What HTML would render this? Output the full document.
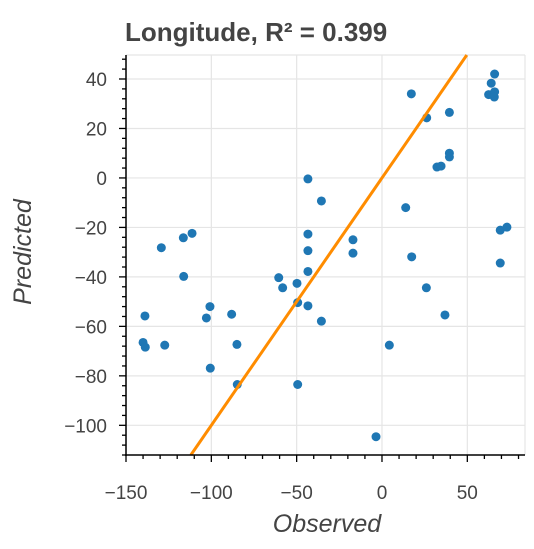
<!DOCTYPE html>
<html><head><meta charset="utf-8"><style>
body{margin:0;background:#fff;}
svg text{font-family:"Liberation Sans",sans-serif;}
</style></head><body>
<svg width="534" height="544" xmlns="http://www.w3.org/2000/svg">
<g id="grid"></g>
<g id="marks"></g>
<g id="axes"></g>
<text x="125" y="41" font-size="26" font-weight="bold" fill="#444">Longitude, R² = 0.399</text>
<text x="327" y="532" font-size="25" font-style="italic" text-anchor="middle" fill="#444">Observed</text>
<text transform="translate(31,252) rotate(-90)" font-size="25" font-style="italic" text-anchor="middle" fill="#444">Predicted</text>
</svg>
<script>
const observed=[66,64,62.5,66,65.8,17.2,26.2,39.5,39.5,39.5,32.2,34.6,-43.4,-35.5,13.9,69.3,73.2,69.3,-17,-17,17.4,-43.4,-43.4,-43.4,-60.5,-58.2,-49.8,-49.4,-43.4,-35.5,26,36.9,4.3,-3.5,-49.4,-84.8,-85,-88.1,-100.6,-100.8,-102.9,-116.2,-116.4,-111.3,-129.3,-138.9,-140,-138.7,-127.3];
const predicted=[42,38.3,33.7,34.8,32.7,34,24.3,26.5,10,8.5,4.4,4.8,-0.4,-9.3,-12,-21.1,-19.9,-34.4,-25,-30.4,-31.9,-22.7,-29.4,-37.8,-40.3,-44.4,-42.6,-50.4,-51.7,-57.9,-44.4,-55.4,-67.6,-104.6,-83.5,-83.5,-67.3,-55.1,-76.9,-52,-56.6,-39.8,-24.2,-22.4,-28.2,-55.8,-66.5,-68.4,-67.6];
const xTicks=[-150,-100,-50,0,50];
const yTicks=[-100,-80,-60,-40,-20,0,20,40];
const X0=126,X1=525,Y0=55,Y1=455,xmin=-150,xmax=83.8,ymin=-112,ymax=49.7;
const sx=v=>X0+(v-xmin)/(xmax-xmin)*(X1-X0);
const sy=v=>Y1-(v-ymin)/(ymax-ymin)*(Y1-Y0);
const NS='http://www.w3.org/2000/svg';
function mk(p,t,a){const e=document.createElementNS(NS,t);for(const k in a)e.setAttribute(k,a[k]);p.appendChild(e);return e;}
const grid=document.getElementById('grid'),marks=document.getElementById('marks'),axes=document.getElementById('axes');
xTicks.forEach(v=>{const l=mk(grid,'line',{x1:sx(v),x2:sx(v),y1:Y0,y2:Y1,stroke:'#e5e5e5','stroke-width':1.2});

});
yTicks.forEach(v=>{const l=mk(grid,'line',{x1:X0,x2:X1,y1:sy(v),y2:sy(v),stroke:'#e5e5e5','stroke-width':1.2});

});
mk(grid,'line',{x1:X1,x2:X1,y1:Y0,y2:Y1,stroke:'#e5e5e5','stroke-width':1.2});
mk(grid,'line',{x1:X0,x2:X1,y1:Y0,y2:Y0,stroke:'#e5e5e5','stroke-width':1.2});
observed.forEach((o,i)=>{const c=mk(marks,'circle',{cx:sx(o),cy:sy(predicted[i]),r:4.5,fill:'#1f77b4'});

});
const lo=Math.max(xmin,ymin),hi=Math.min(xmax,ymax);
const ln=mk(marks,'line',{x1:sx(lo),y1:sy(lo),x2:sx(hi),y2:sy(hi),stroke:'#ff8c00','stroke-width':3});


mk(axes,'line',{x1:X0,x2:X0,y1:Y0,y2:Y1+1,stroke:'#000','stroke-width':1.5});
mk(axes,'line',{x1:X0-1,x2:X1,y1:Y1,y2:Y1,stroke:'#000','stroke-width':1.5});
for(let v=-150;v<=80;v+=10){mk(axes,'line',{x1:sx(v),x2:sx(v),y1:Y1,y2:Y1+(v%50===0?7:4),stroke:'#000','stroke-width':1.3});}
for(let v=-112;v<=48;v+=4){mk(axes,'line',{x1:X0-(v%20===0?7:4),x2:X0,y1:sy(v),y2:sy(v),stroke:'#000','stroke-width':1.3});}
xTicks.forEach(v=>{const t=mk(axes,'text',{x:sx(v),y:Y1+44,'font-size':19,'text-anchor':'middle',fill:'#444'});t.textContent=String(v).replace('-','\u2212');

});
yTicks.forEach(v=>{const t=mk(axes,'text',{x:X0-19,y:sy(v)+7,'font-size':19,'text-anchor':'end',fill:'#444'});t.textContent=String(v).replace('-','\u2212');

});
</script>
</body></html>
